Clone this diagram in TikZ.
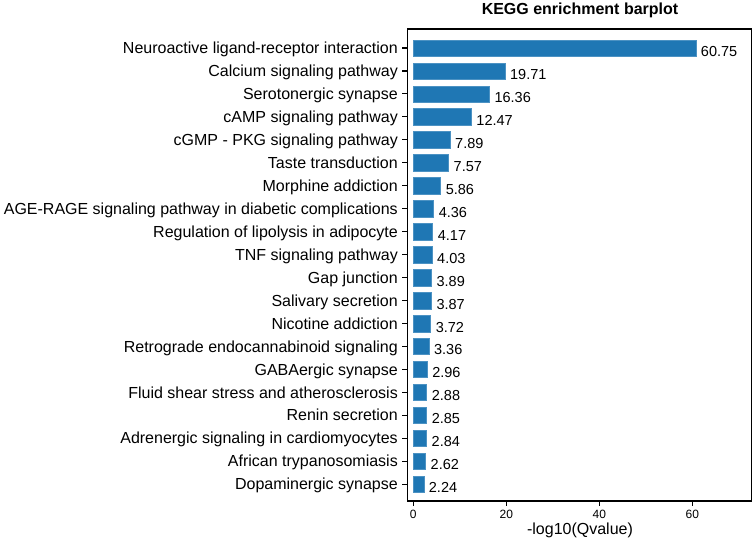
\documentclass[tikz,border=0pt]{standalone}
\usepackage{fontspec}
\setmainfont{Liberation Sans}
\usetikzlibrary{positioning}
\definecolor{barblue}{RGB}{31,119,180}

\begin{document}
\begin{tikzpicture}[
    x=1pt, y=-1pt,
    bar/.style={fill=barblue, draw=barblue!80!white, line width=0.4pt},
    catlabel/.style={anchor=base east, inner sep=0pt, font=\fontsize{16}{16}\selectfont},
    vallabel/.style={anchor=base west, inner sep=0pt, font=\fontsize{14.5}{15}\selectfont},
    ticklabel/.style={anchor=base, inner sep=0pt, font=\fontsize{12}{12}\selectfont},
    axisline/.style={line width=1.1pt}
]
\useasboundingbox (0,0) rectangle (754,547);
% frame
\draw[axisline] (407.5,29) rectangle (751.5,501);
% title and axis label
\node[anchor=base, inner sep=0pt, font=\fontsize{16}{16}\selectfont\bfseries] (title) at (580,14) {KEGG enrichment barplot};
\node[anchor=base, inner sep=0pt, font=\fontsize{16}{16}\selectfont] (xlabel) at (580,534) {-log10(Qvalue)};
% x ticks
\foreach \t in {0,20,40,60} {
    \draw[axisline] (413.3+4.65*\t,501) -- (413.3+4.65*\t,506);
    \node[ticklabel] (xt\t) at (413.3+4.65*\t,518.5) {\t};
}
% bars
\foreach \name/\val [count=\i] in {
    Neuroactive ligand-receptor interaction/60.75,
    Calcium signaling pathway/19.71,
    Serotonergic synapse/16.36,
    cAMP signaling pathway/12.47,
    cGMP - PKG signaling pathway/7.89,
    Taste transduction/7.57,
    Morphine addiction/5.86,
    AGE-RAGE signaling pathway in diabetic complications/4.36,
    Regulation of lipolysis in adipocyte/4.17,
    TNF signaling pathway/4.03,
    Gap junction/3.89,
    Salivary secretion/3.87,
    Nicotine addiction/3.72,
    Retrograde endocannabinoid signaling/3.36,
    GABAergic synapse/2.96,
    Fluid shear stress and atherosclerosis/2.88,
    Renin secretion/2.85,
    Adrenergic signaling in cardiomyocytes/2.84,
    African trypanosomiasis/2.62,
    Dopaminergic synapse/2.24} {
    \pgfmathsetmacro{\yc}{48+(\i-1)*22.96}
    \pgfmathsetmacro{\xe}{413.3+4.65*\val}
    \draw[bar] (413.3,\yc-8.2) rectangle (\xe,\yc+8.2);
    \draw[axisline] (402,\yc) -- (407.5,\yc);
    \node[catlabel] (lab\i) at (398,\yc+5.6) {\name};
    \node[vallabel] (val\i) at (\xe+5,\yc+8.5) {\val};
}
\end{tikzpicture}
\end{document}
